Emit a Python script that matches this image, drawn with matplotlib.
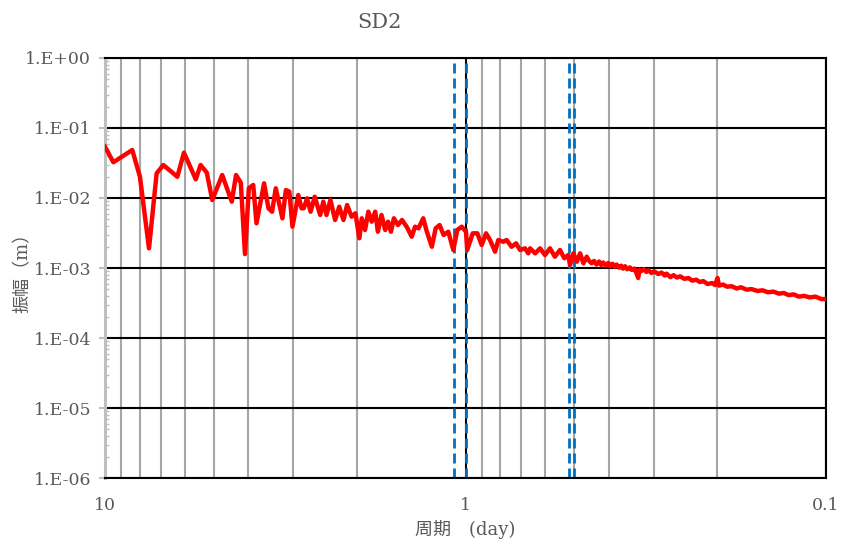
import matplotlib.pyplot as plt
from matplotlib.ticker import FixedLocator, FuncFormatter, LogLocator, NullFormatter
import numpy as np

plt.rcParams['font.family'] = ['DejaVu Serif', 'Noto Sans CJK JP']

# period (day) and amplitude (m)
period = [10.0, 9.48, 8.40, 8.00, 7.55, 7.19, 6.89, 6.30, 6.04, 5.60,
          5.43, 5.22, 5.04, 4.73, 4.45, 4.33, 4.20, 4.09, 3.99, 3.88,
          3.80, 3.62, 3.52, 3.44, 3.36, 3.22, 3.15, 3.08, 3.02, 2.91,
          2.85, 2.81, 2.75, 2.69, 2.62, 2.53, 2.48, 2.43, 2.37, 2.30,
          2.24, 2.18, 2.13, 2.07, 2.02, 1.97, 1.94, 1.90, 1.86, 1.82,
          1.78, 1.75, 1.71, 1.67, 1.64, 1.61, 1.58, 1.54, 1.50, 1.456,
          1.41, 1.38, 1.35, 1.31, 1.28, 1.24, 1.21, 1.18, 1.15, 1.116,
          1.081, 1.054, 1.024, 0.997, 0.989, 0.955, 0.927, 0.902, 0.877, 0.855,
          0.828, 0.811, 0.786, 0.769, 0.745, 0.724, 0.706, 0.684, 0.670, 0.662,
          0.641, 0.621, 0.602, 0.583, 0.565, 0.547, 0.532, 0.519, 0.513, 0.502,
          0.491, 0.481, 0.471, 0.461, 0.455, 0.447, 0.440, 0.433, 0.426, 0.420,
          0.415, 0.408, 0.402, 0.397, 0.391, 0.386, 0.381, 0.375, 0.370, 0.366,
          0.361, 0.356, 0.350, 0.346, 0.340, 0.336, 0.332, 0.329, 0.326, 0.320,
          0.315, 0.311, 0.305, 0.300, 0.292, 0.286, 0.280, 0.277, 0.270, 0.265,
          0.259, 0.254, 0.247, 0.241, 0.235, 0.229, 0.224, 0.219, 0.213, 0.207,
          0.203, 0.200, 0.198, 0.193, 0.188, 0.183, 0.177, 0.172, 0.166, 0.161,
          0.155, 0.150, 0.145, 0.140, 0.135, 0.131, 0.127, 0.123, 0.119, 0.115,
          0.111, 0.107, 0.103, 0.100]
amplitude = [0.054, 0.0324, 0.0485, 0.0201, 0.00191, 0.0225, 0.0296, 0.0201, 0.0444, 0.0185,
             0.0296, 0.0230, 0.00936, 0.0213, 0.00886, 0.0213, 0.0165, 0.00158, 0.01376, 0.01534,
             0.00435, 0.0162, 0.00713, 0.00637, 0.01376, 0.00513, 0.0130, 0.0123, 0.00389, 0.01104,
             0.00713, 0.00713, 0.0099, 0.00637, 0.01044, 0.00572, 0.00886, 0.00572, 0.00936, 0.00485,
             0.00751, 0.00485, 0.00794, 0.0054, 0.00605, 0.00266, 0.00513, 0.00349, 0.00637, 0.00459,
             0.00637, 0.0033, 0.00572, 0.00349, 0.00459, 0.0033, 0.00513, 0.00411, 0.00485, 0.00389,
             0.0028, 0.00389, 0.00369, 0.00513, 0.0033, 0.00201, 0.00369, 0.00411, 0.00296, 0.0033,
             0.00181, 0.00349, 0.00389, 0.0033, 0.00181, 0.00313, 0.00313, 0.00213, 0.00313, 0.00251,
             0.00171, 0.00251, 0.00237, 0.00251, 0.00201, 0.00225, 0.00181, 0.00191, 0.00162, 0.00191,
             0.00162, 0.00191, 0.00153, 0.00191, 0.00145, 0.00181, 0.00138, 0.00153, 0.0011, 0.00162,
             0.00123, 0.00162, 0.00117, 0.00145, 0.00128, 0.00117, 0.00126, 0.00112, 0.00124, 0.00110,
             0.00120, 0.00108, 0.00118, 0.00106, 0.00115, 0.00104, 0.00112, 0.00101, 0.00108, 0.00098,
             0.00106, 0.00096, 0.00102, 0.00094, 0.00098, 0.00086, 0.00072, 0.00095, 0.00090, 0.00096,
             0.00088, 0.00093, 0.00085, 0.00090, 0.00082, 0.00086, 0.00078, 0.00083, 0.00074, 0.00079,
             0.00073, 0.00076, 0.00070, 0.00072, 0.00066, 0.00068, 0.00063, 0.00065, 0.00059, 0.00061,
             0.00057, 0.00072, 0.00056, 0.00058, 0.00054, 0.00055, 0.00051, 0.00053, 0.00049, 0.00050,
             0.00047, 0.00048, 0.00045, 0.00046, 0.00043, 0.00044, 0.00041, 0.00042, 0.00039, 0.00040,
             0.00038, 0.00039, 0.00036, 0.00036]

# tidal constituent periods marked by the blue lines (O1, K1, M2, S2)
tide_periods = [1.0758, 0.9973, 0.5175, 0.5]

y_ticks = [1e-6, 1e-5, 1e-4, 1e-3, 1e-2, 1e-1, 1e0]
x_ticks = [10, 1, 0.1]
x_labels = ['10', '1', '0.1']

text_color = '#595959'

fig = plt.figure(figsize=(8.44, 5.47), dpi=100)
ax = fig.add_axes([0.1244, 0.1261, 0.8543, 0.7679])

ax.set_xscale('log')
ax.set_yscale('log')
ax.set_xlim(10, 0.1)
ax.set_ylim(1e-6, 1)

# gridlines
ax.xaxis.set_minor_locator(LogLocator(base=10, subs=np.arange(2, 10)))
ax.xaxis.set_minor_formatter(NullFormatter())
ax.grid(which='minor', axis='x', color='#A6A6A6', lw=1.5)
ax.grid(which='major', axis='both', color='black', lw=1.5)
ax.set_axisbelow(True)

for p in tide_periods:
    ax.axvline(p, color='#0070C0', lw=2, linestyle=(0, (3.6, 1.8)), zorder=2)

ax.plot(period, amplitude, color='#FF0000', lw=3.2, solid_joinstyle='round', zorder=3)

ax.xaxis.set_major_locator(FixedLocator(x_ticks))
ax.set_xticklabels(x_labels)
ax.yaxis.set_major_locator(FixedLocator(y_ticks))
ax.yaxis.set_major_formatter(FuncFormatter(lambda v, pos: '1.E%+03d' % int(round(np.log10(v)))))
ax.yaxis.set_minor_locator(LogLocator(base=10, subs=np.arange(2, 10)))
ax.yaxis.set_minor_formatter(NullFormatter())

ax.tick_params(axis='x', which='both', length=0, pad=14, labelsize=12.5, labelcolor=text_color)
ax.tick_params(axis='y', which='major', direction='out', length=4, width=1.5, color='#BFBFBF',
               pad=6, labelsize=12.5, labelcolor=text_color)
ax.tick_params(axis='y', which='minor', direction='in', length=3, width=1, color='#BFBFBF')

for side in ['top', 'right', 'bottom']:
    ax.spines[side].set_color('black')
    ax.spines[side].set_linewidth(1.5)
ax.spines['left'].set_color('#BFBFBF')
ax.spines['left'].set_linewidth(2.2)

ax.set_xlabel('周期\u3000(day)', fontsize=13, color=text_color, labelpad=4)
ax.set_ylabel('振幅（m）', fontsize=13, color=text_color)
ax.yaxis.set_label_coords(-0.101, 0.5)

fig.text(0.449, 0.958, 'SD2', fontsize=15, color=text_color, ha='center', va='center')

plt.savefig('out.png', dpi=100)
plt.close()
